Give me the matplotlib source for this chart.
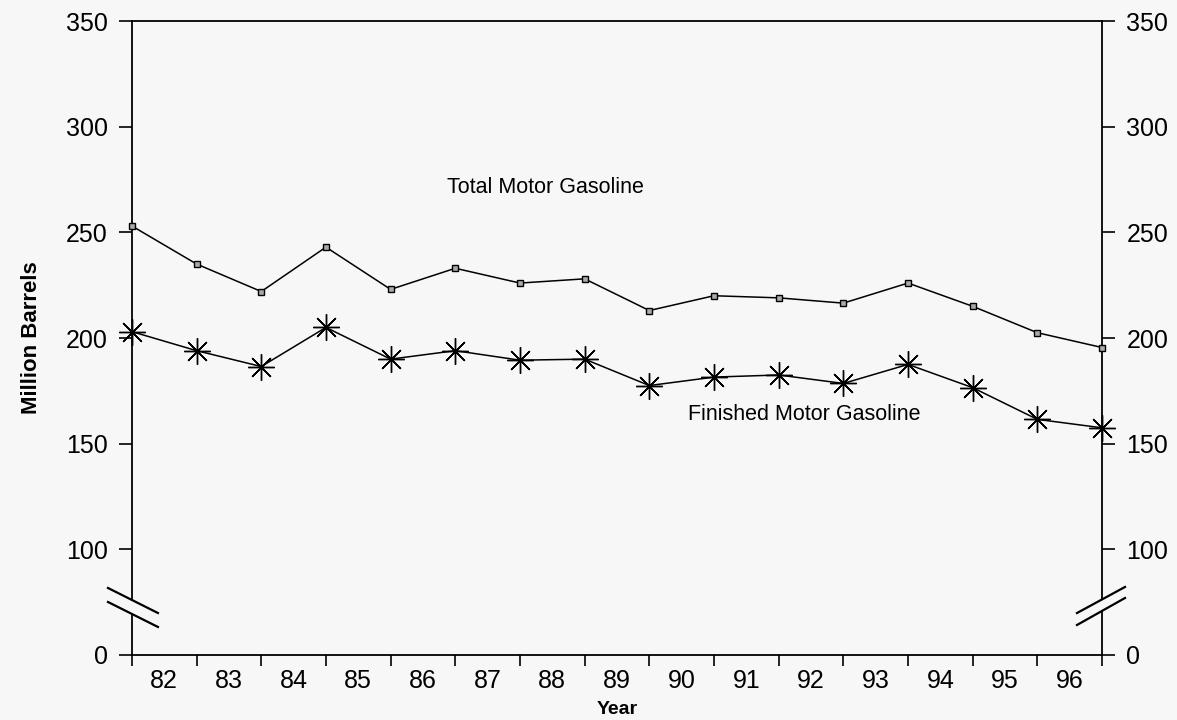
import numpy as np
import matplotlib.pyplot as plt
from matplotlib.patches import Polygon

plt.rcParams['font.family'] = ['Liberation Sans', 'DejaVu Sans']

# --- Dados ---
years = [82, 83, 84, 85, 86, 87, 88, 89, 90, 91, 92, 93, 94, 95, 96]
x_points = [81.5, 82.5, 83.5, 84.5, 85.5, 86.5, 87.5, 88.5, 89.5, 90.5,
            91.5, 92.5, 93.5, 94.5, 95.5, 96.5]
total_gas = [253, 235, 222, 243, 223, 233, 226, 228, 213, 220,
             219, 216.5, 226, 215, 202.5, 195.5]
finished_gas = [203, 194, 186.5, 205, 190, 194, 189.5, 190, 177.5, 181.5,
                182.5, 178.5, 187.5, 176.5, 161.5, 157.5]
y_ticks = [0, 100, 150, 200, 250, 300, 350]


def eixo(v):
    # eixo quebrado: 0-100 ocupa o mesmo espaco que 50 unidades
    return v if v >= 100 else 50 + v / 2


bg = '#f7f7f7'
fig = plt.figure(figsize=(11.77, 7.2), dpi=100, facecolor=bg)
ax = fig.add_axes([0.1121, 0.0903, 0.8242, 0.8805], facecolor=bg)

# --- Series ---
ax.plot(x_points, total_gas, color='black', lw=1.1, marker='s', ms=5,
        mfc='#aaaaaa', mec='black', mew=1.0, clip_on=False, zorder=4)
ax.plot(x_points, finished_gas, color='black', lw=1.1, marker=(8, 2, 0),
        ms=19, mew=1.0, mec='black', clip_on=False, zorder=4)

ax.text(87.9, 271, 'Total Motor Gasoline', ha='center', va='center', fontsize=15.5)
ax.text(91.9, 164, 'Finished Motor Gasoline', ha='center', va='center', fontsize=15.5)

# --- Eixos ---
ax.set_xlim(81.5, 96.5)
ax.set_ylim(50, 350)
ax.set_xticks(x_points)
ax.set_xticklabels([])
ax.set_xticks(years, minor=True)
ax.set_xticklabels([str(y) for y in years], minor=True)
ax.tick_params(axis='x', which='major', direction='out', length=8, width=1.2)
ax.tick_params(axis='x', which='minor', length=0, pad=10, labelsize=18)

ax.set_yticks([eixo(v) for v in y_ticks])
ax.set_yticklabels([str(v) for v in y_ticks])
ax.yaxis.set_ticks_position('both')
ax.tick_params(axis='y', direction='out', length=9.5, width=1.2, pad=8,
               labelsize=18, labelright=True)

for s in ax.spines.values():
    s.set_linewidth(1.3)

ax.set_ylabel('Million Barrels', fontsize=16, fontweight='bold', labelpad=17)
ax.set_xlabel('Year', fontsize=14, fontweight='bold', labelpad=6)

# --- Marcas de quebra ---
tr = ax.transAxes
for (xa, xb), (ya1, yb1), (ya2, yb2) in [
        ((-0.0247, 0.0268), (0.1057, 0.0662), (0.0836, 0.0442)),
        ((0.9742, 1.0237), (0.0662, 0.1073), (0.0473, 0.0899))]:
    ax.add_patch(Polygon([(xa, ya1), (xb, yb1), (xb, yb2), (xa, ya2)],
                         closed=True, transform=tr, facecolor=bg,
                         edgecolor='none', clip_on=False, zorder=5))
    ax.plot([xa, xb], [ya1, yb1], color='black', lw=1.6, transform=tr,
            clip_on=False, zorder=6)
    ax.plot([xa, xb], [ya2, yb2], color='black', lw=1.6, transform=tr,
            clip_on=False, zorder=6)

plt.savefig('out.png', dpi=100, facecolor=bg)
